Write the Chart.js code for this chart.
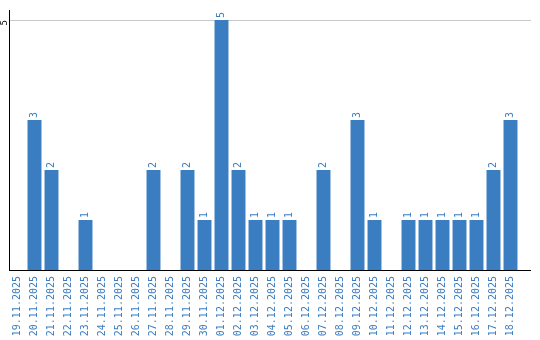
<!DOCTYPE html>
<html><head><meta charset="utf-8">
<script src="https://cdn.jsdelivr.net/npm/chart.js@4/dist/chart.umd.min.js"></script>
<style>html,body{margin:0;padding:0;background:#fff}#wrap{width:540px;height:340px}</style>
</head><body><div id="wrap"><canvas id="c" width="540" height="340"></canvas></div>
<script>
const categories = ["19.11.2025","20.11.2025","21.11.2025","22.11.2025","23.11.2025","24.11.2025","25.11.2025","26.11.2025","27.11.2025","28.11.2025","29.11.2025","30.11.2025","01.12.2025","02.12.2025","03.12.2025","04.12.2025","05.12.2025","06.12.2025","07.12.2025","08.12.2025","09.12.2025","10.12.2025","11.12.2025","12.12.2025","13.12.2025","14.12.2025","15.12.2025","16.12.2025","17.12.2025","18.12.2025"];
const counts = [0,3,2,0,1,0,0,0,2,0,2,1,5,2,1,1,1,0,2,0,3,1,0,1,1,1,1,1,2,3];
const yTicks = [5];
const yMax = 5.2;

const BLUE = '#3b7dc1';
const FONT = '"DejaVu Sans Mono", "Liberation Mono", monospace';

const extras = {
  id: 'extras',
  beforeDatasetsDraw(chart) {
    // extend gridlines to the right edge of the frame
    const ctx = chart.ctx;
    const a = chart.chartArea;
    const ys = chart.scales.y;
    ctx.save();
    ctx.strokeStyle = '#c8c8c8';
    ctx.lineWidth = 1;
    yTicks.forEach(v => {
      const y = Math.round(ys.getPixelForValue(v)) + 0.5;
      ctx.beginPath();
      ctx.moveTo(a.right, y);
      ctx.lineTo(531, y);
      ctx.stroke();
    });
    ctx.restore();
  },
  afterDatasetsDraw(chart) {
    const ctx = chart.ctx;
    const meta = chart.getDatasetMeta(0);
    ctx.save();
    ctx.fillStyle = BLUE;
    ctx.font = '10px ' + FONT;
    ctx.textAlign = 'left';
    ctx.textBaseline = 'middle';
    meta.data.forEach((bar, i) => {
      const v = counts[i];
      if (!v) return;
      ctx.save();
      ctx.translate(bar.x, bar.y - 2);
      ctx.rotate(-Math.PI / 2);
      ctx.fillText(String(v), 0, 0);
      ctx.restore();
    });
    // extend x axis baseline
    const a = chart.chartArea;
    ctx.strokeStyle = '#000';
    ctx.lineWidth = 1;
    ctx.beginPath();
    ctx.moveTo(a.right, Math.round(a.bottom) + 0.5);
    ctx.lineTo(531, Math.round(a.bottom) + 0.5);
    ctx.stroke();
    ctx.restore();
  }
};

new Chart(document.getElementById('c'), {
  type: 'bar',
  data: {
    labels: categories,
    datasets: [{
      data: counts,
      backgroundColor: BLUE,
      borderWidth: 0,
      categoryPercentage: 1.0,
      barPercentage: 0.82
    }]
  },
  options: {
    responsive: false,
    animation: false,
    devicePixelRatio: 1,
    layout: { padding: { left: 0, right: 21, top: 10, bottom: 0 } },
    plugins: { legend: { display: false }, tooltip: { enabled: false } },
    scales: {
      x: {
        grid: { display: false, drawTicks: false },
        border: { display: true, color: '#000', width: 1 },
        ticks: {
          color: BLUE, font: { family: FONT, size: 10 },
          minRotation: 90, maxRotation: 90, autoSkip: false, padding: 6
        },
        afterFit(s) { s.height = 70; }
      },
      y: {
        min: 0, max: yMax,
        afterBuildTicks(s) { s.ticks = yTicks.map(v => ({ value: v })); },
        grid: { color: '#c8c8c8', lineWidth: 1, drawTicks: false },
        border: { display: true, color: '#000', width: 1 },
        ticks: {
          color: '#000', font: { family: FONT, size: 9 },
          minRotation: 90, maxRotation: 90, padding: 4
        },
        afterFit(s) { s.width = 9; }
      }
    }
  },
  plugins: [extras]
});
</script></body></html>
